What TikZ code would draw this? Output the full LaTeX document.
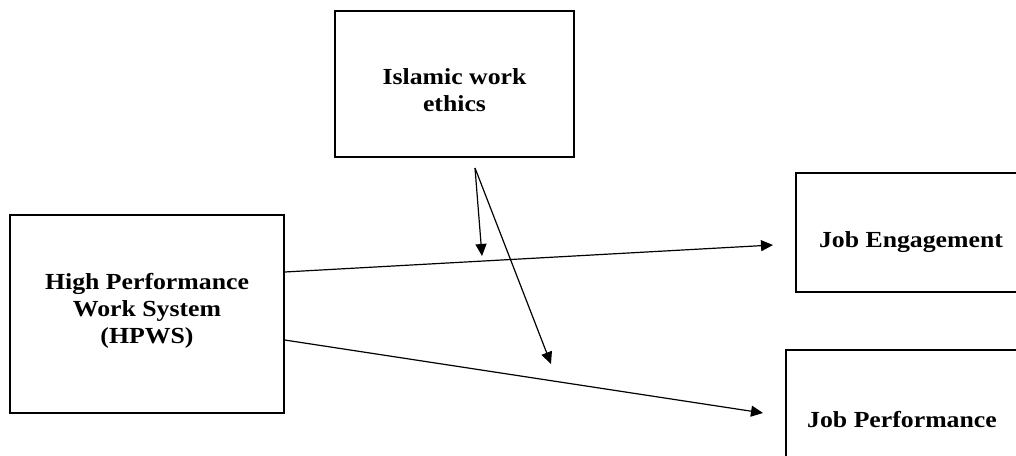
\documentclass[tikz,border=0pt]{standalone}
\usepackage{fontspec}
\setmainfont{Liberation Serif}[FakeStretch=1.12]
\usetikzlibrary{arrows.meta}
\begin{document}
\begin{tikzpicture}[x=1pt,y=-1pt,
  boxn/.style={draw, line width=1.3pt, inner sep=0pt, rectangle},
  lbl/.style={font=\bfseries\fontsize{23}{27}\selectfont, align=center, anchor=base, inner sep=0pt},
  arr/.style={line width=1.2pt, -{Triangle[length=12pt,width=11pt]}}]
\useasboundingbox (0,0) rectangle (1016,455);
\begin{scope}
\clip (0,0) rectangle (1016,455);
\node[boxn, minimum width=239pt, minimum height=146pt] (isl) at (454.5,84) {};
\node[boxn, minimum width=274pt, minimum height=198pt] (hpws) at (147,314) {};
\node[boxn, minimum width=232pt, minimum height=119pt] (eng) at (912,232.5) {};
\node[boxn, minimum width=234pt, minimum height=120pt] (perf) at (903,410) {};
\end{scope}
\node[lbl] (islT) at (454.5,111) {Islamic work\\ethics};
\node[lbl] (hpwsT) at (147,343) {High Performance\\Work System\\(HPWS)};
\node[lbl] (engT) at (911,247) {Job Engagement};
\node[lbl] (perfT) at (902,427) {Job Performance};
\coordinate (h1) at (hpws.east |- 0,272);
\coordinate (h2) at (hpws.east |- 0,340);
\coordinate (e1) at (773,245);
\coordinate (p1) at (763,413);
\coordinate (m0) at (475,168);
\coordinate (m1) at (482,256);
\coordinate (m2) at (551,364);
\draw[arr] (h1) -- (e1);
\draw[arr] (h2) -- (p1);
\draw[arr] (m0) -- (m1);
\draw[arr] (m0) -- (m2);
\end{tikzpicture}
\end{document}
